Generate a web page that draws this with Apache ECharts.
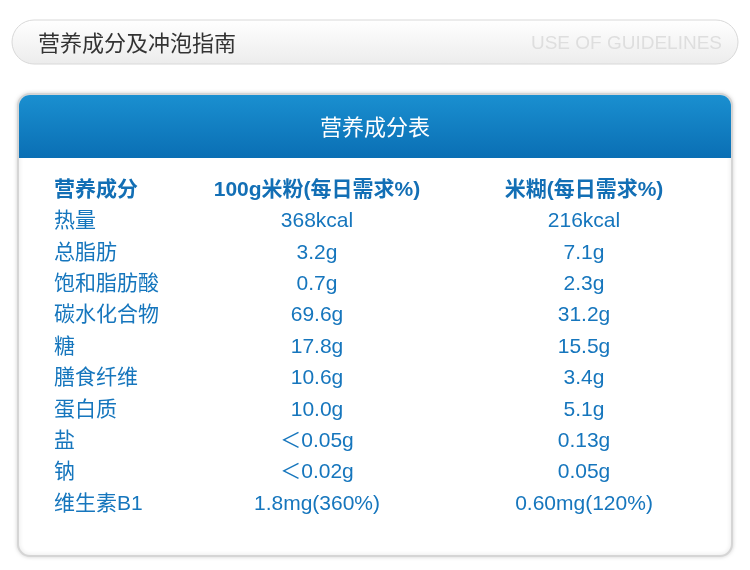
<!DOCTYPE html>
<html><head><meta charset="utf-8">
<script src="https://cdn.jsdelivr.net/npm/echarts@6/dist/echarts.min.js"></script>
<style>html,body{margin:0;padding:0;background:#fff}#c{width:750px;height:570px}</style>
</head><body><div id="c"></div>
<script>
const headers = ['营养成分', '100g米粉(每日需求%)', '米糊(每日需求%)'];
const nutrients = ['热量','总脂肪','饱和脂肪酸','碳水化合物','糖','膳食纤维','蛋白质','盐','钠','维生素B1'];
const riceFlour = ['368kcal','3.2g','0.7g','69.6g','17.8g','10.6g','10.0g','＜0.05g','＜0.02g','1.8mg(360%)'];
const ricePaste = ['216kcal','7.1g','2.3g','31.2g','15.5g','3.4g','5.1g','0.13g','0.05g','0.60mg(120%)'];

const rows = ['h'].concat(nutrients.map((_, i) => 'r' + i));
const FONT = '"Liberation Sans", "Noto Sans CJK SC", sans-serif';
const col = (xPos, headText, vals, align) => ({
  type: 'scatter', symbolSize: 0, silent: true,
  itemStyle: { opacity: 1 },
  data: [headText].concat(vals).map((t, i) => ({ value: [xPos, rows[i]], txt: t })),
  label: {
    show: true, position: 'inside', align: align, verticalAlign: 'middle',
    fontFamily: FONT, fontSize: 21, color: '#1676bd', opacity: 1,
    formatter: p => p.data.txt
  }
});
const s1 = col(54, headers[0], nutrients, 'left');
const s2 = col(317, headers[1], riceFlour, 'center');
const s3 = col(584, headers[2], ricePaste, 'center');
[s1, s2, s3].forEach(s => s.data[0].label = { fontWeight: 'bold', color: '#136fb5' });

const chart = echarts.init(document.getElementById('c'));
chart.setOption({
  animation: false,
  graphic: [
    { type: 'rect', shape: { x: 12, y: 20, width: 726, height: 44, r: 22 },
      style: { fill: new echarts.graphic.LinearGradient(0,0,0,1,[{offset:0,color:'#ffffff'},{offset:1,color:'#ececec'}]), stroke: '#d8d8d8', lineWidth: 1 } },
    { type: 'text', x: 38, y: 43, style: { text: '营养成分及冲泡指南', font: '22px "Noto Sans CJK SC"', fill: '#333', textVerticalAlign: 'middle' } },
    { type: 'text', x: 722, y: 44, style: { text: 'USE OF GUIDELINES', font: '19px "Liberation Sans"', fill: '#dedede', textAlign: 'right', textVerticalAlign: 'middle' } },
    { type: 'rect', shape: { x: 18, y: 94, width: 714, height: 462, r: 12 },
      style: { fill: '#fff', stroke: '#d5d5d5', lineWidth: 2, shadowBlur: 4, shadowColor: 'rgba(0,0,0,0.15)' } },
    { type: 'rect', shape: { x: 19, y: 95, width: 712, height: 63, r: [11,11,0,0] },
      style: { fill: new echarts.graphic.LinearGradient(0,0,0,1,[{offset:0,color:'#1a8fd0'},{offset:1,color:'#0a6fb4'}]) } },
    { type: 'text', x: 375, y: 127, style: { text: '营养成分表', font: '22px "Noto Sans CJK SC"', fill: '#fff', textAlign: 'center', textVerticalAlign: 'middle' } }
  ],
  grid: { left: 0, right: 0, top: 174.3, bottom: 50.3 },
  xAxis: { type: 'value', min: 0, max: 750, show: false },
  yAxis: { type: 'category', data: rows, inverse: true, show: false },
  series: [s1, s2, s3]
});
</script></body></html>
